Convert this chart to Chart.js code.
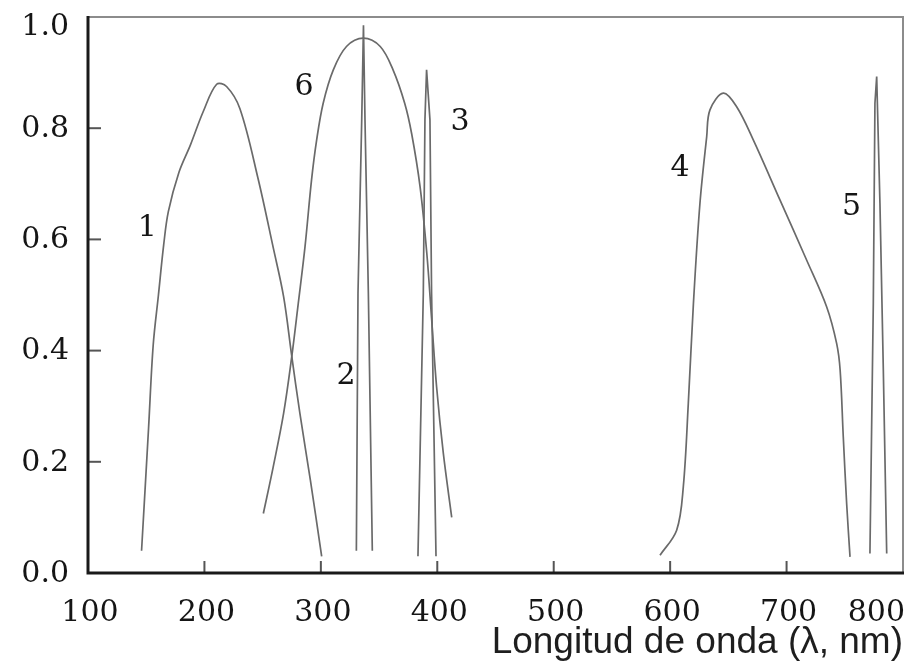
<!DOCTYPE html>
<html>
<head>
<meta charset="utf-8">
<script src="https://cdn.jsdelivr.net/npm/chart.js@4.4.1/dist/chart.umd.min.js"></script>
<style>
html,body{margin:0;padding:0;background:#fff;}
#wrap{width:914px;height:667px;}
</style>
</head>
<body>
<div id="wrap"><canvas id="c" width="914" height="667"></canvas></div>
<script>
// ---- data ----
const xTicks = [100, 200, 300, 400, 500, 600, 700, 800];
const yTicks = [0.0, 0.2, 0.4, 0.6, 0.8, 1.0];

const curve1X = [146, 152, 156, 160.5, 165, 169, 178, 188, 199, 210.5, 219, 230.5, 246, 259, 268, 275, 282, 291, 300.7];
const curve1Y = [0.04, 0.26, 0.41, 0.50, 0.59, 0.65, 0.72, 0.77, 0.83, 0.879, 0.875, 0.835, 0.71, 0.586, 0.497, 0.39, 0.287, 0.167, 0.03];

const curve2X = [330.5, 331.9, 335.1, 336.6, 337.9, 340.8, 344.2];
const curve2Y = [0.04, 0.503, 0.815, 0.985, 0.815, 0.503, 0.04];

const curve3X = [383.4, 388.0, 389.4, 390.8, 393.7, 395.1, 398.9];
const curve3Y = [0.03, 0.503, 0.815, 0.905, 0.815, 0.503, 0.03];

const curve4X = [591.3, 605.6, 611.3, 615.6, 620, 625.6, 631.4, 634.2, 645.7, 657, 671.4, 694.3, 717.2, 734.4, 743, 746, 748.7, 751.6, 754.5];
const curve4Y = [0.032, 0.077, 0.155, 0.305, 0.485, 0.665, 0.785, 0.833, 0.863, 0.839, 0.779, 0.671, 0.563, 0.479, 0.413, 0.365, 0.245, 0.125, 0.029];

const curve5X = [771.6, 774.5, 775.9, 777.4, 780.2, 783.1, 786];
const curve5Y = [0.035, 0.485, 0.845, 0.893, 0.665, 0.365, 0.035];

const curve6X = [250.6, 259, 268, 275, 280.6, 286.4, 292, 296.4, 302, 310.7, 322, 336.5, 351, 362, 372, 378, 385.2, 391, 395.2, 399.4, 405.2, 412.4];
const curve6Y = [0.107, 0.19, 0.287, 0.389, 0.485, 0.587, 0.707, 0.779, 0.845, 0.905, 0.947, 0.962, 0.947, 0.905, 0.845, 0.79, 0.695, 0.575, 0.455, 0.335, 0.215, 0.10];

const curveLabels = ['1', '2', '3', '4', '5', '6'];
const curveLabelX = [150.9, 321.6, 419.5, 608.5, 755.9, 285.5];
const curveLabelY = [0.622, 0.355, 0.813, 0.729, 0.659, 0.875];

const xTitle = 'Longitud de onda (λ, nm)';

// ---- build ----
function pts(xs, ys) { return xs.map((x, i) => ({ x: x, y: ys[i] })); }
const LINE = '#6a6a6a';
function ds(xs, ys, smooth) {
  return {
    data: pts(xs, ys),
    borderColor: LINE,
    borderWidth: 1.7,
    pointRadius: 0,
    fill: false,
    tension: smooth ? 0.35 : 0
  };
}

const framePlugin = {
  id: 'frame',
  afterDraw(chart) {
    const ctx = chart.ctx, a = chart.chartArea;
    const xs = chart.scales.x, ys = chart.scales.y;
    ctx.save();
    // top & right border
    ctx.strokeStyle = '#8c8c8c';
    ctx.lineWidth = 2;
    ctx.beginPath();
    ctx.moveTo(a.left, a.top); ctx.lineTo(a.right, a.top); ctx.lineTo(a.right, a.bottom);
    ctx.stroke();
    // tick marks (inward)
    ctx.strokeStyle = '#555';
    ctx.lineWidth = 2;
    xTicks.forEach(v => {
      if (v === xTicks[0] || v === xTicks[xTicks.length - 1]) return;
      const px = xs.getPixelForValue(v);
      ctx.beginPath(); ctx.moveTo(px, a.bottom); ctx.lineTo(px, a.bottom - 12); ctx.stroke();
    });
    yTicks.forEach(v => {
      if (v === yTicks[0] || v === yTicks[yTicks.length - 1]) return;
      const py = ys.getPixelForValue(v);
      ctx.beginPath(); ctx.moveTo(a.left, py); ctx.lineTo(a.left + 13, py); ctx.stroke();
    });
    // left & bottom axes
    ctx.strokeStyle = '#1a1a1a';
    ctx.lineWidth = 3;
    ctx.beginPath();
    ctx.moveTo(a.left, a.top - 1); ctx.lineTo(a.left, a.bottom); ctx.lineTo(a.right + 1, a.bottom);
    ctx.stroke();
    // tick labels
    ctx.fillStyle = '#151515';
    ctx.font = '30px "DejaVu Serif"';
    ctx.textBaseline = 'alphabetic';
    xTicks.forEach((v, i) => {
      const px = xs.getPixelForValue(v);
      if (i === xTicks.length - 1) { ctx.textAlign = 'right'; ctx.fillText(String(v), px + 2, 621); }
      else { ctx.textAlign = 'center'; ctx.fillText(String(v), px + 2, 621); }
    });
    ctx.textAlign = 'right';
    ctx.textBaseline = 'middle';
    yTicks.forEach(v => {
      const py = Math.max(ys.getPixelForValue(v), 26);
      ctx.fillText(v.toFixed(1), 69, py + 1);
    });
    // curve labels
    ctx.textAlign = 'center';
    ctx.textBaseline = 'middle';
    curveLabels.forEach((t, i) => {
      ctx.fillText(t, xs.getPixelForValue(curveLabelX[i]), ys.getPixelForValue(curveLabelY[i]) + 1);
    });
    ctx.restore();
  }
};

new Chart(document.getElementById('c'), {
  type: 'line',
  data: {
    datasets: [
      ds(curve1X, curve1Y, true),
      ds(curve2X, curve2Y, false),
      ds(curve3X, curve3Y, false),
      ds(curve4X, curve4Y, true),
      ds(curve5X, curve5Y, false),
      ds(curve6X, curve6Y, true)
    ]
  },
  options: {
    responsive: false,
    animation: false,
    devicePixelRatio: 1,
    layout: { padding: { top: 17, right: 11, left: 0, bottom: 0 } },
    plugins: { legend: { display: false }, tooltip: { enabled: false } },
    scales: {
      x: {
        type: 'linear', min: 100, max: 800,
        grid: { display: false }, border: { display: false },
        ticks: { display: false },
        title: {
          display: true, text: xTitle, align: 'end', color: '#1e1e1e',
          font: { family: '"Liberation Sans", Arial, sans-serif', size: 37 },
          padding: { top: 0, bottom: 2 }
        },
        afterFit(s) { s.height = 94; s.paddingLeft = 0; s.paddingRight = 0; }
      },
      y: {
        type: 'linear', min: 0, max: 1,
        grid: { display: false }, border: { display: false },
        ticks: { display: false },
        afterFit(s) { s.width = 88; s.paddingTop = 0; s.paddingBottom = 0; }
      }
    }
  },
  plugins: [framePlugin]
});
</script>
</body>
</html>
